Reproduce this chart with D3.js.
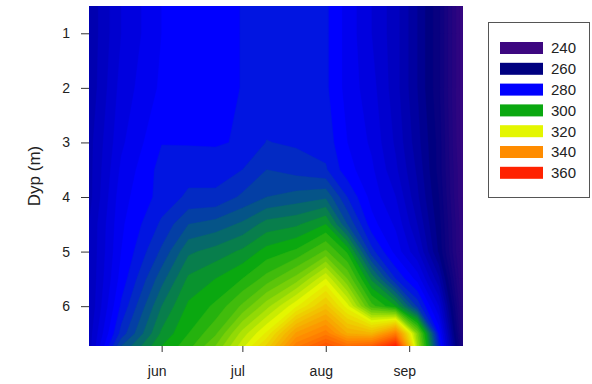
<!DOCTYPE html>
<html>
<head>
<meta charset="utf-8">
<script src="https://cdn.jsdelivr.net/npm/d3@7"></script>
<style>
  body { margin: 0; background: #fff; }
  text { font-family: "Liberation Sans", Arial, sans-serif; fill: #222; }
</style>
</head>
<body>
<svg id="chart" width="592" height="384"></svg>
<script>
// sampling dates (columns) and depths (rows)
const sampleDates = ["2013-05-05", "2013-05-17", "2013-06-01", "2013-06-11", "2013-06-21",
  "2013-07-01", "2013-07-10", "2013-07-21", "2013-08-01", "2013-08-09",
  "2013-08-18", "2013-08-27", "2013-09-04", "2013-09-12", "2013-09-21"];
const depths = [0.5, 1, 2, 3, 3.5, 4, 4.5, 5, 5.5, 6, 6.5, 6.73];

// one profile per sampling date, values at each depth
const profiles = [
  [268, 268, 268, 269, 269, 269, 270, 270, 270, 270, 271, 271],
  [275, 275, 276, 277, 278, 279, 279.5, 280, 281, 283, 286, 290],
  [280, 280, 280.5, 282.4, 283.5, 283.5, 285.5, 288, 291.5, 295, 298, 300],
  [280.5, 280.5, 281, 282.3, 284, 285.5, 290, 294.5, 298, 300.5, 302.5, 304],
  [281.5, 281.5, 281.5, 282.2, 284, 285.5, 291, 296, 300, 303, 307, 310],
  [282.6, 282.6, 282.6, 282.8, 285, 288, 293, 298, 302.5, 308, 316, 319],
  [283, 283, 283, 285.1, 287.5, 290, 296, 301, 306, 314, 323, 328],
  [283, 283, 283, 284.6, 286.5, 291, 297, 303, 311, 322, 338, 344],
  [283, 283, 283, 284, 285.3, 292, 300, 308, 320, 331, 344, 352],
  [279, 279, 279, 280, 281, 285, 290, 302, 310, 321, 335, 347],
  [275, 275, 276, 277, 278, 279, 281, 286, 297, 306, 333, 350],
  [271, 271, 271, 272, 273, 275, 277, 279, 285, 300, 344, 362],
  [265, 265, 265, 266, 267, 268, 270, 273, 279, 287, 312, 315],
  [258, 258, 258, 259, 259, 260, 261, 262, 268, 275, 282, 285],
  [243, 243, 243, 243, 244, 244, 245, 245, 246, 248, 250, 252]
];

const legendValues = [240, 260, 280, 300, 320, 340, 360];
const legendColors = ["#3d0780", "#000080", "#0000ff", "#0aa810", "#e4f600", "#ff8c00", "#ff2200"];
const monthLabels = ["jun", "jul", "aug", "sep"];

const svg = d3.select("#chart");
const margin = { left: 89, right: 463, top: 6, bottom: 346 };

const parse = d3.timeParse("%Y-%m-%d");
const dates = sampleDates.map(parse);

const x = d3.scaleTime()
  .domain([dates[0], dates[dates.length - 1]])
  .range([margin.left, margin.right]);
const y = d3.scaleLinear()
  .domain([depths[0], depths[depths.length - 1]])
  .range([margin.top, margin.bottom]);
const color = d3.scaleLinear().domain(legendValues).range(legendColors).clamp(true);

// grid for d3.contours: row = depth, column = date
const nx = dates.length, ny = depths.length;
const grid = new Array(nx * ny);
for (let j = 0; j < ny; j++) {
  for (let i = 0; i < nx; i++) grid[j * nx + i] = profiles[i][j];
}

const thresholds = d3.range(240, 365, 2.5);
const contours = d3.contours().size([nx, ny]).thresholds(thresholds)(grid);

// grid coords -> pixel coords (values sit at cell centres)
const dateAt = g => {
  const k = Math.max(0, Math.min(nx - 1, g - 0.5));
  const i0 = Math.min(Math.floor(k), nx - 2), f = k - i0;
  return new Date(+dates[i0] + f * (dates[i0 + 1] - dates[i0]));
};
const depthAt = g => {
  const k = Math.max(0, Math.min(ny - 1, g - 0.5));
  const j0 = Math.min(Math.floor(k), ny - 2), f = k - j0;
  return depths[j0] + f * (depths[j0 + 1] - depths[j0]);
};
const project = d3.geoTransform({
  point: function(gx, gy) { this.stream.point(x(dateAt(gx)), y(depthAt(gy))); }
});
const path = d3.geoPath(project);

svg.append("clipPath").attr("id", "plotclip")
  .append("rect")
  .attr("x", margin.left).attr("y", margin.top)
  .attr("width", margin.right - margin.left)
  .attr("height", margin.bottom - margin.top);

svg.append("g")
  .attr("clip-path", "url(#plotclip)")
  .selectAll("path")
  .data(contours)
  .join("path")
  .attr("d", path)
  .attr("fill", d => color(d.value))
  .attr("stroke", d => color(d.value))
  .attr("stroke-width", 0.4);

// y axis
const yAxis = svg.append("g").attr("transform", `translate(${margin.left},0)`)
  .call(d3.axisLeft(y).tickValues([1, 2, 3, 4, 5, 6]).tickFormat(d3.format("d"))
    .tickSize(8).tickPadding(11));
yAxis.select(".domain").remove();
yAxis.selectAll("line").attr("stroke", "#333");
yAxis.selectAll("text").style("font-size", "14px").attr("fill", "#222");

svg.append("text")
  .attr("transform", "translate(40,176) rotate(-90)")
  .attr("text-anchor", "middle")
  .style("font-size", "17px")
  .text("Dyp (m)");

// x axis
const monthTicks = d3.timeMonth.range(new Date(2013, 5, 1), new Date(2013, 8, 2));
const xAxis = svg.append("g").attr("transform", `translate(0,${margin.bottom})`)
  .call(d3.axisBottom(x).tickValues(monthTicks).tickSize(6).tickPadding(14)
    .tickFormat((d, i) => monthLabels[i]));
xAxis.select(".domain").remove();
xAxis.selectAll("line").attr("stroke", "#333");
xAxis.selectAll("text").style("font-size", "14px").attr("fill", "#222").attr("dx", "-5");

// legend
const legend = svg.append("g");
legend.append("rect")
  .attr("x", 488.5).attr("y", 22.5).attr("width", 101).attr("height", 175)
  .attr("fill", "#fff").attr("stroke", "#555");
const items = legend.selectAll("g.item").data(legendValues).join("g")
  .attr("class", "item")
  .attr("transform", (d, i) => `translate(0,${42 + i * 20.8})`);
items.append("rect")
  .attr("x", 500).attr("y", 0).attr("width", 43).attr("height", 12)
  .attr("fill", d => color(d));
items.append("text")
  .attr("x", 551).attr("y", 6).attr("dy", "0.36em")
  .style("font-size", "15px")
  .text(d => d);
</script>
</body>
</html>
